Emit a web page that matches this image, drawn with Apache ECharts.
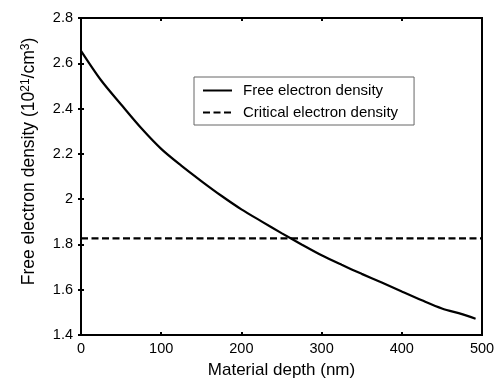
<!DOCTYPE html>
<html>
<head>
<meta charset="utf-8">
<script src="https://cdn.jsdelivr.net/npm/echarts@6/dist/echarts.min.js"></script>
<style>html,body{margin:0;padding:0;background:#fff}#c{width:498px;height:385px}</style>
</head>
<body>
<div id="c"></div>
<script>
var depth = [0, 25, 50, 75, 100, 125, 150, 175, 200, 225, 250, 275, 300, 325, 350, 375, 400, 425, 450, 475, 492];
var freeDensity = [2.655, 2.525, 2.418, 2.314, 2.222, 2.148, 2.08, 2.015, 1.955, 1.902, 1.85, 1.80, 1.752, 1.71, 1.67, 1.632, 1.592, 1.553, 1.517, 1.492, 1.472];
var criticalDepth = [0, 500];
var criticalDensity = [1.827, 1.827];
var xTicks = [0, 100, 200, 300, 400, 500];
var yTicks = [1.4, 1.6, 1.8, 2, 2.2, 2.4, 2.6, 2.8];

var FONT = '"Liberation Sans", Arial, sans-serif';
var chart = echarts.init(document.getElementById('c'), null, {renderer: 'canvas'});

function pairs(xs, ys) { return xs.map(function (x, i) { return [x, ys[i]]; }); }

var tickCommon = {show: true, inside: true, length: 3, lineStyle: {color: '#000', width: 2}};

chart.setOption({
  animation: false,
  backgroundColor: '#fff',
  textStyle: {fontFamily: FONT, color: '#000'},
  grid: {left: 81, right: 16, top: 18, bottom: 50, show: true, borderColor: '#000', borderWidth: 2, containLabel: false},
  legend: {
    orient: 'vertical', left: 194, top: 77,
    padding: [6, 16, 5, 8], itemGap: 7, itemWidth: 29, itemHeight: 14,
    borderColor: '#666', borderWidth: 1, backgroundColor: '#fff',
    itemStyle: {opacity: 0, color: 'rgba(0,0,0,0)', borderWidth: 0},
    textStyle: {fontFamily: FONT, fontSize: 15, color: '#000', padding: [0, 0, 0, 6]},
    data: ['Free electron density', 'Critical electron density']
  },
  xAxis: [{
    type: 'value', min: xTicks[0], max: xTicks[xTicks.length - 1], interval: 100,
    axisLine: {show: true, lineStyle: {color: '#000', width: 2}},
    axisTick: tickCommon, splitLine: {show: false},
    axisLabel: {fontFamily: FONT, fontSize: 14.5, color: '#000', margin: 6},
    name: 'Material depth (nm)', nameLocation: 'middle', nameGap: 27,
    nameTextStyle: {fontFamily: FONT, fontSize: 17, color: '#000'}
  }, {
    type: 'value', position: 'top', min: xTicks[0], max: xTicks[xTicks.length - 1], interval: 100,
    axisLine: {show: true, lineStyle: {color: '#000', width: 2}},
    axisTick: tickCommon, axisLabel: {show: false}, splitLine: {show: false}
  }],
  yAxis: [{
    type: 'value', min: yTicks[0], max: yTicks[yTicks.length - 1], interval: 0.2,
    axisLine: {show: true, lineStyle: {color: '#000', width: 2}},
    axisTick: tickCommon, splitLine: {show: false},
    axisLabel: {fontFamily: FONT, fontSize: 14.5, color: '#000', margin: 8,
      formatter: function (v) { return String(Math.round(v * 10) / 10); }},
    name: '{n|Free electron density (10}{s|21}{n|/cm}{s|3}{n|)}', nameLocation: 'middle', nameGap: 42, nameRotate: 90,
    nameTextStyle: {
      padding: [0, 0, 0, 30],
      rich: {
        n: {fontFamily: FONT, fontSize: 17.5, color: '#000'},
        s: {fontFamily: FONT, fontSize: 12, color: '#000', verticalAlign: 'top', padding: [0, 0, 7, 0]}
      }
    }
  }, {
    type: 'value', position: 'right', min: yTicks[0], max: yTicks[yTicks.length - 1], interval: 0.2,
    axisLine: {show: true, lineStyle: {color: '#000', width: 2}},
    axisTick: tickCommon, axisLabel: {show: false}, splitLine: {show: false}
  }],
  series: [{
    name: 'Free electron density', type: 'line', xAxisIndex: 0, yAxisIndex: 0,
    data: pairs(depth, freeDensity), showSymbol: false, symbol: 'none', smooth: 0.3,
    lineStyle: {color: '#000', width: 2.2}, itemStyle: {color: '#000'}
  }, {
    name: 'Critical electron density', type: 'line', xAxisIndex: 0, yAxisIndex: 0,
    data: pairs(criticalDepth, criticalDensity), showSymbol: false, symbol: 'none',
    lineStyle: {color: '#000', width: 2.2, type: [7, 3.5]}, itemStyle: {color: '#000'}
  }]
});
</script>
</body>
</html>
